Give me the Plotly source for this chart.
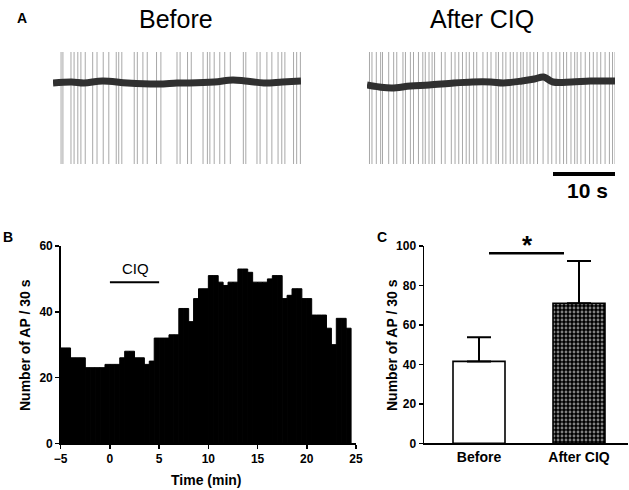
import plotly.graph_objects as go

W, H = 629, 490
FONT = "Liberation Sans, Arial, sans-serif"

# ---------------- Panel A data (time in s, voltage in arbitrary units) ----------------
before_spike_times = [1.3, 1.6, 2.9, 3.4, 4.0, 4.5, 5.2, 6.4, 7.1, 8.1, 9.0, 10.2, 10.6, 11.1,
                      13.1, 13.6, 14.5, 15.2, 16.7, 17.4, 20.0, 20.5, 21.7, 22.3, 24.2, 24.9,
                      25.3, 26.0, 26.9, 27.7, 28.6, 30.7, 31.1, 32.9, 33.4, 34.5, 35.3, 36.3,
                      36.9, 37.4, 38.8, 39.3, 39.9]
after_spike_times = [0.4, 0.8, 1.5, 2.2, 2.5, 3.5, 4.3, 4.8, 5.8, 6.2, 7.0, 7.5, 8.3, 9.0, 9.4,
                     10.0, 10.5, 10.9, 12.0, 12.6, 13.6, 14.2, 14.8, 15.4, 16.0, 16.5, 17.2,
                     17.7, 18.7, 19.4, 20.0, 20.8, 21.2, 21.9, 22.4, 23.1, 23.6, 24.2, 24.8,
                     25.2, 25.8, 26.3, 26.9, 27.5, 28.4, 29.2, 29.8, 30.5, 31.1, 31.7, 32.2,
                     32.9, 33.5, 33.9, 34.5, 35.2, 35.9, 36.5, 37.1, 37.7, 38.4, 39.1, 39.6, 40.0]
before_base_t = [0, 3, 5, 8, 12, 17, 20, 22, 26, 29, 31, 34, 37, 40]
before_base_v = [-1, 0, -1, 1, -1, -2, -1, -1, 0, 2, 1, -1, 0, 1]
after_base_t = [0, 2, 4, 7, 10, 14, 17, 20, 22, 25, 27, 28.5, 30, 33, 36, 40]
after_base_v = [-3, -5, -6, -4, -3, -1, 0, 0, -1, 1, 3, 5, 0, 0, 1, 1]
spike_top = 30
spike_bottom = -82
scale_bar_s = [30, 40]

# ---------------- Panel B data ----------------
bin_width_min = 0.5
hist_start_min = -5
ap_counts = [29, 29, 26, 26, 26, 23, 23, 23, 23, 24, 24, 24, 26, 28, 28, 26, 26, 24, 25,
             32, 32, 32, 33, 33, 41, 41, 37, 44, 47, 47, 51, 51, 49, 48, 49, 49, 53, 53, 52,
             49, 49, 49, 50, 51, 51, 44, 45, 47, 47, 44, 44, 39, 39, 39, 35, 30, 38, 38, 35]
ciq_period = [0, 5]
b_xticks = [-5, 0, 5, 10, 15, 20, 25]
b_yticks = [0, 20, 40, 60]

# ---------------- Panel C data ----------------
c_categories = ["Before", "After CIQ"]
c_means = [41.5, 71]
c_sem = [12.3, 21.4]
c_yticks = [0, 20, 40, 60, 80, 100]
sig_line_y = 96.3

fig = go.Figure()

def spike_xy(times):
    xs, ys = [], []
    for t in times:
        xs += [t, t, None]
        ys += [spike_top, spike_bottom, None]
    return xs, ys

for times, bt, bv, ax in [(before_spike_times, before_base_t, before_base_v, ("x3", "y3")),
                          (after_spike_times, after_base_t, after_base_v, ("x4", "y4"))]:
    sx, sy = spike_xy(times)
    fig.add_trace(go.Scatter(x=sx, y=sy, mode="lines", line=dict(color="#a8a8a8", width=1),
                             xaxis=ax[0], yaxis=ax[1], showlegend=False, hoverinfo="skip"))
    fig.add_trace(go.Scatter(x=bt, y=bv, mode="lines",
                             line=dict(color="#303030", width=7, shape="spline"),
                             xaxis=ax[0], yaxis=ax[1], showlegend=False, hoverinfo="skip"))

fig.add_trace(go.Scatter(x=scale_bar_s, y=[-92, -92], mode="lines", line=dict(color="black", width=4),
                         xaxis="x4", yaxis="y4", showlegend=False, hoverinfo="skip"))

bin_centers = [hist_start_min + bin_width_min * (i + 0.5) for i in range(len(ap_counts))]
fig.add_trace(go.Bar(x=bin_centers, y=ap_counts, width=bin_width_min,
                     marker=dict(color="black", line=dict(color="black", width=1)),
                     xaxis="x", yaxis="y", showlegend=False))

fig.add_trace(go.Bar(x=[c_categories[0]], y=[c_means[0]], width=0.52,
                     marker=dict(color="white", line=dict(color="black", width=1.6)),
                     error_y=dict(type="data", symmetric=False, array=[c_sem[0]], arrayminus=[0],
                                  color="black", thickness=2, width=12),
                     xaxis="x2", yaxis="y2", showlegend=False))
fig.add_trace(go.Bar(x=[c_categories[1]], y=[c_means[1]], width=0.52,
                     marker=dict(color="black", line=dict(color="black", width=1.6),
                                 pattern=dict(shape=".", fgcolor="white", bgcolor="black",
                                              size=4, solidity=0.4)),
                     error_y=dict(type="data", symmetric=False, array=[c_sem[1]], arrayminus=[0],
                                  color="black", thickness=2, width=12),
                     xaxis="x2", yaxis="y2", showlegend=False))

fig.add_shape(type="line", xref="x", yref="y", x0=ciq_period[0], x1=ciq_period[1], y0=49, y1=49,
              line=dict(color="black", width=2))
fig.add_shape(type="line", xref="x2", yref="y2", x0=0.10, x1=0.85, y0=sig_line_y, y1=sig_line_y,
              line=dict(color="black", width=2.5))

tickfont = dict(family=FONT, size=12, color="black", weight="bold")

b_ydom = [(H - 443.3) / H, (H - 246) / H]
common = dict(showline=True, linecolor="black", linewidth=1.5, showgrid=False, zeroline=False,
              automargin=False)
tick_common = dict(ticks="outside", ticklen=4, tickwidth=1.5, tickcolor="black", tickfont=tickfont)
fig.update_layout(
    width=W, height=H, autosize=False,
    margin=dict(l=0, r=0, t=0, b=0, pad=0),
    paper_bgcolor="white", plot_bgcolor="white",
    bargap=0,
    font=dict(family=FONT, color="black"),
    xaxis=dict(domain=[60.7 / W, 356 / W], range=[-5, 25], tickvals=b_xticks, anchor="y",
               **common, **tick_common),
    yaxis=dict(domain=b_ydom, range=[0, 60], tickvals=b_yticks, anchor="x", **common, **tick_common),
    xaxis2=dict(domain=[424 / W, 628 / W], range=[-0.55, 1.49], type="category", ticks="",
                tickfont=dict(family=FONT, size=14, color="black", weight="bold"),
                anchor="y2", **common),
    yaxis2=dict(domain=b_ydom, range=[0, 100], tickvals=c_yticks, anchor="x2", **common, **tick_common),
    xaxis3=dict(domain=[53 / W, 301 / W], range=[0, 40], visible=False, anchor="y3", automargin=False),
    yaxis3=dict(domain=[(H - 200) / H, (H - 40) / H], range=[-118, 42], visible=False, anchor="x3",
                automargin=False),
    xaxis4=dict(domain=[367 / W, 615 / W], range=[0, 40], visible=False, anchor="y4", automargin=False),
    yaxis4=dict(domain=[(H - 200) / H, (H - 40) / H], range=[-118, 42], visible=False, anchor="x4",
                automargin=False),
)

def pann(text, px, py, size, bold=False, angle=0):
    f = dict(family=FONT, size=size, color="black")
    if bold:
        f["weight"] = "bold"
    return dict(text=text, x=px / W, y=1 - py / H, xref="paper", yref="paper", showarrow=False,
                xanchor="center", yanchor="middle", textangle=angle, font=f)

ann = [
    pann("A", 22, 18, 14, True),
    pann("B", 8, 237, 14, True),
    pann("C", 382, 237, 14, True),
    pann("Before", 176, 19, 25),
    pann("After CIQ", 482, 19, 25),
    pann("10 s", 587, 190, 21, True),
    pann("CIQ", 135, 268, 15),
    pann("*", 527, 245, 26, True),
    pann("Time (min)", 207, 480, 14, True),
    pann("Number of AP / 30 s", 25, 345, 14, True, -90),
    pann("Number of AP / 30 s", 392, 345, 14, True, -90),
]
fig.update_layout(annotations=ann)

fig.write_html("out.html", config={"displayModeBar": False, "staticPlot": True},
               post_script="document.body.style.margin='0px';")
